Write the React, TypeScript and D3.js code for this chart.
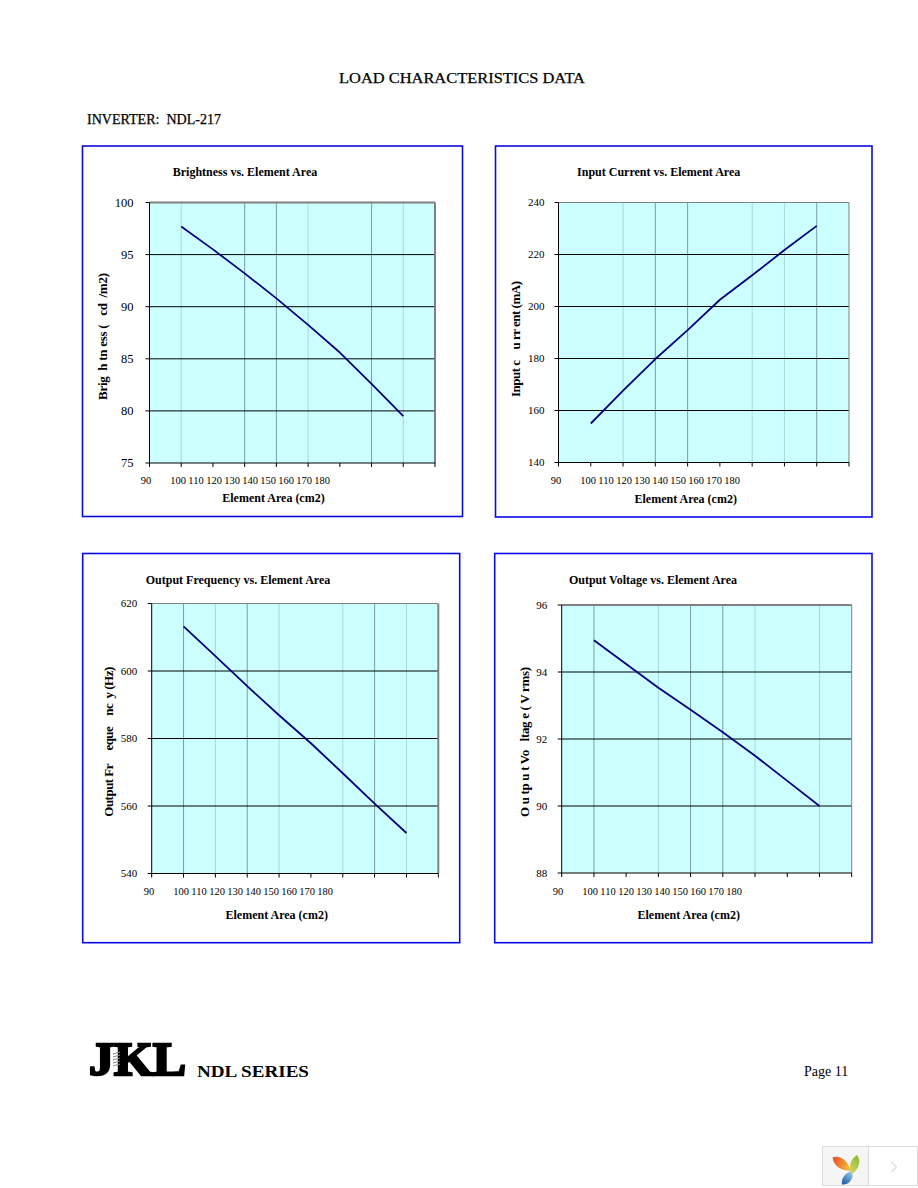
import React from "react";
import * as d3 from "d3";

// ---- data ----
const areaValues = [100, 110, 120, 130, 140, 150, 160, 170];
const xAxisTicks = [90, 100, 110, 120, 130, 140, 150, 160, 170, 180];
const xAxisLabels = ["90", "100", "110", "120", "130", "140", "150", "160", "170", "180"];

const brightness = [97.7, 95.5, 93.2, 90.8, 88.25, 85.6, 82.6, 79.5];
const inputCurrent = [155, 167.6, 179.8, 190.9, 202.6, 212, 221.7, 231];
const outputFrequency = [613.2, 604.4, 595.5, 586.9, 578.6, 569.7, 560.7, 552];
const outputVoltage = [94.95, 94.24, 93.53, 92.87, 92.2, 91.5, 90.75, 90.0];

const brightnessTicks = [75, 80, 85, 90, 95, 100];
const currentTicks = [140, 160, 180, 200, 220, 240];
const frequencyTicks = [540, 560, 580, 600, 620];
const voltageTicks = [88, 90, 92, 94, 96];

// ---- look of the vertical grid lines (resampling artefacts of the scan): 0 none, 1 light, 2 dark ----
const gridBrightness = [1, 0, 2, 2, 1, 0, 2, 1];
const gridCurrent = [0, 1, 2, 2, 0, 1, 1, 2];
const gridFrequency = [2, 1, 2, 1, 0, 1, 2, 1];
const gridVoltage = [2, 0, 1, 2, 2, 1, 0, 1];

const SERIF = "'Liberation Serif', serif";
const GRID_COLORS = ["none", "#a6d8dc", "#7a9ea2"];
const COIL_OFFSETS = [0, 3, 6, 9, 12];

type PanelProps = {
  frame: [number, number, number, number];
  plot: [number, number, number, number];
  title: string; titleX: number; titleY: number;
  xTitleX: number; xTitleY: number;
  yTitle: string; yTitleX: number; yTitleY: number; yTitleLen: number;
  labelX: number; labelY: number;
  tickFont: number; tickGap: number;
  values: number[]; yTicks: number[]; grid: number[];
  rightWidth: number; topWidth: number;
};

function Panel(p: PanelProps) {
  const [l, t, r, b] = p.plot;
  const x = d3.scaleLinear().domain([90, 180]).range([l, r]);
  const y = d3.scaleLinear().domain(d3.extent(p.yTicks) as [number, number]).range([b, t]);
  const line = d3
    .line<number>()
    .x((_, i) => x(areaValues[i]))
    .y((d) => y(d));
  const labelPos = (i: number) => (i === 0 ? p.labelX : p.labelX + 32 + (i - 1) * 18);
  const [fl, ft, fr, fb] = p.frame;
  return (
    <g>
      <rect x={fl} y={ft} width={fr - fl} height={fb - ft} fill="#fff" stroke="#0a0ae6" strokeWidth={1.6} />
      <rect x={l} y={t} width={r - l} height={b - t} fill="#ccffff" />
      {areaValues.map((v, i) =>
        p.grid[i] ? (
          <line key={v} x1={x(v)} x2={x(v)} y1={t} y2={b} stroke={GRID_COLORS[p.grid[i]]} strokeWidth={1} />
        ) : null
      )}
      {p.yTicks.slice(1, -1).map((v) => (
        <line key={v} x1={l} x2={r} y1={y(v)} y2={y(v)} stroke="#000" strokeWidth={1} />
      ))}
      <line x1={l} x2={r} y1={t} y2={t} stroke="#808080" strokeWidth={p.topWidth} />
      <line x1={r} x2={r} y1={t} y2={b} stroke="#808080" strokeWidth={p.rightWidth} />
      <line x1={l} x2={l} y1={t} y2={b + 1} stroke="#000" strokeWidth={1} />
      <line x1={l} x2={r} y1={b} y2={b} stroke="#000" strokeWidth={1} />
      {p.yTicks.map((v) => (
        <g key={v}>
          <line x1={l - 4} x2={l} y1={y(v)} y2={y(v)} stroke="#000" strokeWidth={1} />
          <text x={l - p.tickGap} y={y(v) + p.tickFont * 0.33} textAnchor="end" fontFamily={SERIF} fontSize={p.tickFont} fill="#000">
            {v}
          </text>
        </g>
      ))}
      {xAxisTicks.map((v) => (
        <line key={v} x1={x(v)} x2={x(v)} y1={b} y2={b + 4} stroke="#000" strokeWidth={1} />
      ))}
      {xAxisLabels.map((s, i) => (
        <text key={s} x={labelPos(i)} y={p.labelY} textAnchor="middle" fontFamily={SERIF} fontSize={10.5} fill="#000">
          {s}
        </text>
      ))}
      <path d={line(p.values) ?? ""} fill="none" stroke="#000080" strokeWidth={1.8} strokeLinejoin="round" />
      <text x={p.titleX} y={p.titleY} textAnchor="middle" fontFamily={SERIF} fontWeight="bold" fontSize={12} fill="#000">
        {p.title}
      </text>
      <text x={p.xTitleX} y={p.xTitleY} textAnchor="middle" fontFamily={SERIF} fontWeight="bold" fontSize={12} fill="#000">
        Element Area (cm2)
      </text>
      <text
        transform={`translate(${p.yTitleX},${p.yTitleY}) rotate(-90)`}
        textAnchor="middle"
        fontFamily={SERIF}
        fontWeight="bold"
        fontSize={13}
        fill="#000"
        textLength={p.yTitleLen}
        lengthAdjust="spacing"
        style={{ whiteSpace: "pre" }}
      >
        {p.yTitle}
      </text>
    </g>
  );
}

function Watermark() {
  return (
    <g>
      <rect x={822.5} y={1146.5} width={95} height={39} fill="#fff" stroke="#dcdcdc" strokeWidth={1} />
      <rect x={823} y={1147} width={45} height={38} fill="#f5f5f5" />
      <line x1={868.5} x2={868.5} y1={1146} y2={1186} stroke="#dcdcdc" strokeWidth={1} />
      <defs>
        <linearGradient id="petalA" x1="1" y1="0.6" x2="0" y2="0.3">
          <stop offset="0" stopColor="#f6c13a" />
          <stop offset="1" stopColor="#e8502a" />
        </linearGradient>
        <linearGradient id="petalB" x1="0.7" y1="0" x2="0.2" y2="1">
          <stop offset="0" stopColor="#8dbb3a" />
          <stop offset="1" stopColor="#d6d65a" />
        </linearGradient>
        <linearGradient id="petalC" x1="0.8" y1="0" x2="0.2" y2="1">
          <stop offset="0" stopColor="#9cc8e8" />
          <stop offset="1" stopColor="#1a5fa8" />
        </linearGradient>
      </defs>
      <path d="M832.5 1157.5 C838 1155 847 1158 851 1171 C844 1171 834 1168 832.5 1157.5Z" fill="url(#petalA)" />
      <path d="M857 1155 C861 1160 860 1168 852 1174 C848 1168 850 1159 857 1155Z" fill="url(#petalB)" />
      <path d="M851 1171 C853 1173 853 1178 851 1180 C849 1184 845 1185 842 1184.5 C841 1179 845 1173 851 1171Z" fill="url(#petalC)" />
      <path d="M891.5 1162 L896.5 1167 L891.5 1172" fill="none" stroke="#c4c4c4" strokeWidth={1} />
    </g>
  );
}

export default function App() {
  return (
    <svg
      width={918}
      height={1188}
      viewBox="0 0 918 1188"
      style={{ position: "absolute", left: 0, top: 0, display: "block", background: "#fff" }}
    >
      <text x={462} y={83} textAnchor="middle" fontFamily={SERIF} fontSize={15} fill="#000" stroke="#000" strokeWidth={0.25} textLength={246} lengthAdjust="spacingAndGlyphs">
        LOAD CHARACTERISTICS DATA
      </text>
      <text x={87} y={124} fontFamily={SERIF} fontSize={14} fill="#000" stroke="#000" strokeWidth={0.25} textLength={134} lengthAdjust="spacingAndGlyphs" style={{ whiteSpace: "pre" }}>
        {"INVERTER:  NDL-217"}
      </text>

      <Panel
        frame={[82.5, 146, 462.5, 516.5]}
        plot={[149.5, 202.5, 435, 463]}
        title="Brightness vs. Element Area"
        titleX={245} titleY={176}
        xTitleX={273.5} xTitleY={502}
        yTitle="Brig  h tn ess (   cd  /m2)"
        yTitleX={106.5} yTitleY={336.5} yTitleLen={127}
        labelX={146} labelY={484}
        tickFont={12.5} tickGap={16}
        values={brightness} yTicks={brightnessTicks} grid={gridBrightness}
        rightWidth={2} topWidth={2}
      />
      <Panel
        frame={[495.5, 146, 872, 517]}
        plot={[558.5, 202.5, 849, 462.5]}
        title="Input Current vs. Element Area"
        titleX={658.7} titleY={176}
        xTitleX={685.7} xTitleY={503}
        yTitle="Input c    u rr ent (mA)"
        yTitleX={519.5} yTitleY={339} yTitleLen={116}
        labelX={556} labelY={484}
        tickFont={11} tickGap={14}
        values={inputCurrent} yTicks={currentTicks} grid={gridCurrent}
        rightWidth={1} topWidth={1}
      />
      <Panel
        frame={[82.7, 553.5, 459.7, 942.7]}
        plot={[151.7, 603.5, 438.3, 873.5]}
        title="Output Frequency vs. Element Area"
        titleX={238} titleY={584}
        xTitleX={276.7} xTitleY={919}
        yTitle="Output Fr     eque    nc  y (Hz)"
        yTitleX={112.5} yTitleY={741.7} yTitleLen={150}
        labelX={149} labelY={895}
        tickFont={11} tickGap={14.5}
        values={outputFrequency} yTicks={frequencyTicks} grid={gridFrequency}
        rightWidth={2} topWidth={1}
      />
      <Panel
        frame={[494.7, 553.5, 872, 942.7]}
        plot={[561.7, 605, 851.7, 873]}
        title="Output Voltage vs. Element Area"
        titleX={653} titleY={584}
        xTitleX={688.7} xTitleY={919}
        yTitle="O u tp u t Vo   ltag e ( V rms)"
        yTitleX={528.5} yTitleY={742} yTitleLen={150}
        labelX={558} labelY={895}
        tickFont={11} tickGap={14.5}
        values={outputVoltage} yTicks={voltageTicks} grid={gridVoltage}
        rightWidth={1} topWidth={2}
      />

      <text
        x={89}
        y={1075}
        fontFamily={SERIF}
        fontWeight="bold"
        fontSize={47}
        fill="#000"
        stroke="#000"
        strokeWidth={2.4}
        textLength={97}
        lengthAdjust="spacingAndGlyphs"
      >
        JKL
      </text>
      {COIL_OFFSETS.map((o) => (
        <line key={o} x1={113} x2={120} y1={1054 + o} y2={1052 + o} stroke="#8a8a8a" strokeWidth={1} />
      ))}
      <text x={197} y={1077} fontFamily={SERIF} fontWeight="bold" fontSize={16} fill="#000" textLength={112} lengthAdjust="spacingAndGlyphs">
        NDL SERIES
      </text>
      <text x={804} y={1076} fontFamily={SERIF} fontSize={14} fill="#000">
        Page 11
      </text>
      <Watermark />
    </svg>
  );
}
